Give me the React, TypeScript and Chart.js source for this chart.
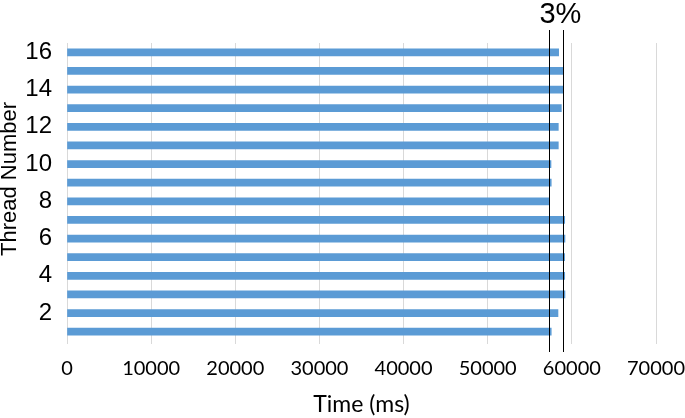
import React, { useEffect, useRef } from "react";
import { Chart, registerables } from "chart.js";

Chart.register(...registerables);

const threads = [1, 2, 3, 4, 5, 6, 7, 8, 9, 10, 11, 12, 13, 14, 15, 16];
const times = [57550, 58350, 59180, 59150, 59140, 59180, 59150, 57320, 57550, 57520, 58390, 58390, 58750, 59000, 59030, 58430];
const xTicks = [0, 10000, 20000, 30000, 40000, 50000, 60000, 70000];
const markerLines = [57300, 59000];
const markerLabel = "3%";
const yTitle = "Thread Number";

const markerPlugin = {
  id: "markers",
  afterDatasetsDraw(chart: any) {
    const { ctx, scales } = chart;
    const xs = markerLines.map((v) => scales.x.getPixelForValue(v));
    ctx.save();
    ctx.strokeStyle = "#000";
    ctx.lineWidth = 1;
    xs.forEach((x) => {
      const px = Math.round(x) + 0.5;
      ctx.beginPath();
      ctx.moveTo(px, 30);
      ctx.lineTo(px, 352);
      ctx.stroke();
    });
    ctx.fillStyle = "#000";
    ctx.font = "29px 'Liberation Sans', Arial, sans-serif";
    ctx.textAlign = "center";
    ctx.textBaseline = "alphabetic";
    ctx.fillText(markerLabel, xs[1] - 3, 23);
    // y-axis title
    ctx.font = "22px 'Liberation Sans', Arial, sans-serif";
    ctx.translate(10, 179);
    ctx.rotate(-Math.PI / 2);
    ctx.textBaseline = "middle";
    ctx.fillText(yTitle, 0, 0);
    ctx.restore();
  },
};

export default function App() {
  const ref = useRef<HTMLCanvasElement>(null);
  useEffect(() => {
    const chart = new Chart(ref.current!, {
      type: "bar",
      data: {
        labels: threads,
        datasets: [
          {
            data: times,
            backgroundColor: "#5B9BD5",
            barThickness: 7,
          },
        ],
      },
      options: {
        indexAxis: "y",
        animation: false,
        responsive: false,
        maintainAspectRatio: false,
        layout: { padding: { top: 43, left: 0, right: 0, bottom: 0 } },
        plugins: { legend: { display: false }, tooltip: { enabled: false } },
        scales: {
          x: {
            min: 0,
            max: 70000,
            afterBuildTicks: (axis: any) => {
              axis.ticks = xTicks.map((v) => ({ value: v }));
            },
            afterFit: (axis: any) => {
              axis.height = 77;
              axis.paddingRight = 29;
            },
            grid: { color: "#d9d9d9", drawTicks: true, tickLength: 3 },
            border: { display: false },
            ticks: {
              color: "#000",
              font: { family: "Lato, 'Open Sans', sans-serif", size: 20 },
              padding: 13,
              maxRotation: 0,
              autoSkip: false,
              callback: (v: any) => String(v),
            },
            title: {
              display: true,
              text: "Time (ms)",
              color: "#000",
              font: { family: "Lato, 'Open Sans', sans-serif", size: 23, lineHeight: 1.2 },
              padding: { top: 0, bottom: 0 },
            },
          },
          y: {
            reverse: true,
            afterFit: (axis: any) => {
              axis.width = 67;
            },
            grid: { display: false },
            border: { display: true, color: "#d9d9d9" },
            ticks: {
              color: "#000",
              font: { family: "'Liberation Sans', Arial, sans-serif", size: 24 },
              padding: 7,
              autoSkip: false,
              callback: (_v: any, i: number) => (threads[i] % 2 === 0 ? String(threads[i]) : ""),
            },
            title: { display: false },
          },
        },
      },
      plugins: [markerPlugin],
    } as any);
    return () => chart.destroy();
  }, []);
  return (
    <div style={{ position: "fixed", left: 0, top: 0, width: 685, height: 418, background: "#fff" }}>
      <canvas ref={ref} width={685} height={418} />
    </div>
  );
}
